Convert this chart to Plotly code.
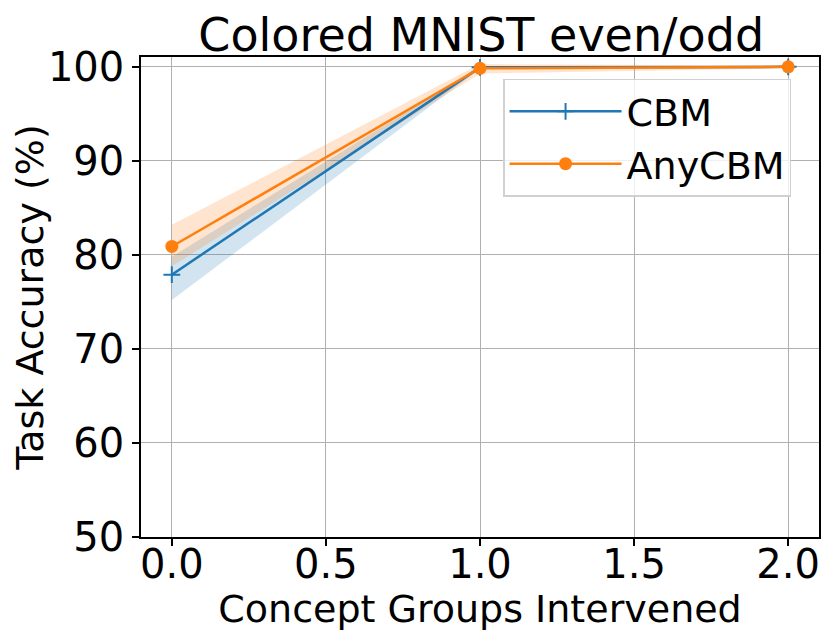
import plotly.graph_objects as go

# data
groups = [0.0, 1.0, 2.0]

cbm_mean = [77.9, 99.95, 100.0]
cbm_low = [75.2, 99.8, 99.95]
cbm_high = [79.8, 100.05, 100.05]

any_mean = [80.9, 99.85, 100.0]
any_low = [78.8, 99.3, 99.85]
any_high = [83.2, 100.3, 100.15]

y_ticks = [50, 60, 70, 80, 90, 100]
x_ticks = [0.0, 0.5, 1.0, 1.5, 2.0]

blue = "#1f77b4"
orange = "#ff7f0e"
font = "DejaVu Sans"

# the page body adds an 8px offset, so the figure is a bit smaller than the window
W, H = 823, 635


def add_band(fig, low, high, fill):
    # lower edge, then upper edge filled back to it
    fig.add_trace(go.Scatter(x=groups, y=low, mode="lines", line=dict(width=0),
                             showlegend=False, hoverinfo="skip"))
    fig.add_trace(go.Scatter(x=groups, y=high, mode="lines", line=dict(width=0),
                             fill="tonexty", fillcolor=fill,
                             showlegend=False, hoverinfo="skip"))


fig = go.Figure()
add_band(fig, cbm_low, cbm_high, "rgba(31,119,180,0.2)")
add_band(fig, any_low, any_high, "rgba(255,127,14,0.2)")

fig.add_trace(go.Scatter(x=groups, y=cbm_mean, name="CBM", mode="lines+markers",
                         line=dict(color=blue, width=2.5),
                         marker=dict(symbol="cross-thin", size=12,
                                     line=dict(color=blue, width=2))))
fig.add_trace(go.Scatter(x=groups, y=any_mean, name="AnyCBM", mode="lines+markers",
                         line=dict(color=orange, width=2.5),
                         marker=dict(symbol="circle", size=13, color=orange)))

axis_common = dict(showline=True, linecolor="black", linewidth=1.5, mirror=True,
                   ticks="outside", ticklen=7, tickwidth=1.5, tickcolor="black",
                   showgrid=True, gridcolor="#b0b0b0", gridwidth=1.3,
                   zeroline=False, automargin=False,
                   tickfont=dict(size=40, color="black"))

fig.update_xaxes(range=[-0.1, 2.1], tickvals=x_ticks,
                 ticktext=["%.1f" % v for v in x_ticks], ticklabelstandoff=-16,
                 title=dict(text="Concept Groups Intervened",
                            font=dict(size=38, color="black"), standoff=4),
                 **axis_common)
fig.update_yaxes(range=[50, 101.05], tickvals=y_ticks,
                 title=dict(text="Task Accuracy (%)",
                            font=dict(size=38, color="black"), standoff=10),
                 **axis_common)

fig.update_layout(
    width=W, height=H,
    margin=dict(l=133, r=12, t=49, b=106),
    paper_bgcolor="white", plot_bgcolor="white",
    font=dict(family=font, color="black"),
    title=dict(text="Colored MNIST even/odd", x=0.575, xanchor="center",
               y=1 - 27 / H, yanchor="middle", font=dict(size=46, color="black")),
    legend=dict(x=0.534, y=0.955, xanchor="left", yanchor="top", traceorder="normal",
                bgcolor="rgba(255,255,255,0.8)", bordercolor="#d0d0d0", borderwidth=1.5,
                itemwidth=112, font=dict(size=38, color="black")),
)

fig.write_html("out.html")
